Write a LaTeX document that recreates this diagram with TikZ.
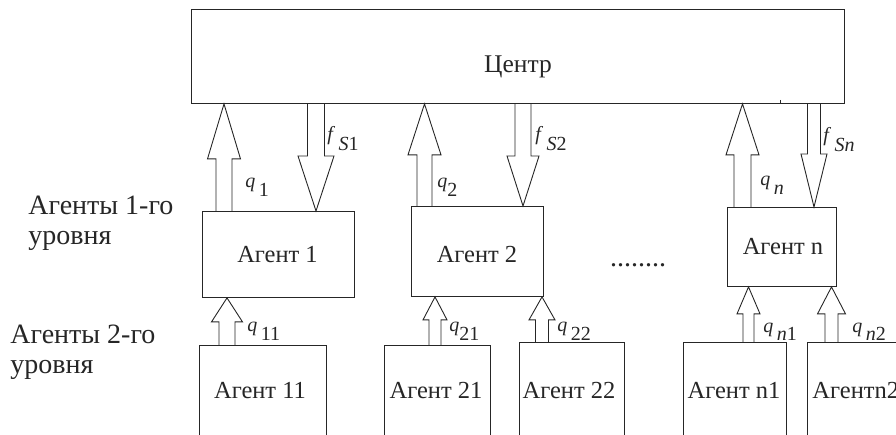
\documentclass[tikz,border=0pt]{standalone}
\usepackage{fontspec}
\setmainfont{Liberation Serif}
\usetikzlibrary{calc}

% sub/superscript-like labels on the block arrows
\newcommand\arrlab[2]{\textit{#1}\,\raisebox{-9pt}{#2}}

\tikzset{
  box/.style={draw, inner sep=0pt, anchor=north west,
    font=\fontsize{24.5}{28}\selectfont},
  txt/.style={inner sep=0pt, font=\fontsize{24.5}{28}\selectfont},
  lvlcap/.style={inner sep=0pt, anchor=base west, align=left,
    font=\fontsize{28}{30}\selectfont},
  lab/.style={inner sep=0pt, anchor=base west,
    font=\fontsize{20}{22}\selectfont},
  % hollow block arrow pointing up: {half shaft}{half head}{head length}
  uparr/.style n args={3}{to path={let \p1=(\tikztostart), \p2=(\tikztotarget) in
    (\x1-#1,\y1) -- (\x1-#1,\y2-#3) -- (\x1-#2,\y2-#3) -- (\x1,\y2)
    -- (\x1+#2,\y2-#3) -- (\x1+#1,\y2-#3) -- (\x1+#1,\y1)}},
  % hollow block arrow pointing down
  dnarr/.style n args={3}{to path={let \p1=(\tikztostart), \p2=(\tikztotarget) in
    (\x1-#1,\y1) -- (\x1-#1,\y2+#3) -- (\x1-#2,\y2+#3) -- (\x1,\y2)
    -- (\x1+#2,\y2+#3) -- (\x1+#1,\y2+#3) -- (\x1+#1,\y1)}},
}

\begin{document}
\begin{tikzpicture}[x=1pt, y=-1pt, line width=0.9pt, color=black!85]
\useasboundingbox (0,0) rectangle (896,435);
\clip (0,0) rectangle (896,435);

% centre
\node[box, minimum width=653pt, minimum height=93.5pt] (ctr) at (191,9.5) {};
\node[txt, anchor=base, font=\fontsize{25.5}{28}\selectfont] (ctrtext) at (518,73) {Центр};
\coordinate (tick) at (780,100);
\draw (tick) -- (tick |- ctr.south);

% first-level agents
\node[box, minimum width=152pt, minimum height=86pt] (a1) at (202,211) {};
\node[txt, anchor=base] (a1t) at (277.5,263) {Агент 1};
\node[box, minimum width=132pt, minimum height=90pt] (a2) at (411,206) {};
\node[txt, anchor=base] (a2t) at (477,263) {Агент 2};
\node[box, minimum width=109pt, minimum height=79pt] (an) at (727,207) {};
\node[txt, anchor=base] (ant) at (783,255) {Агент n};
\node[txt, anchor=base, font=\fontsize{28}{30}\selectfont] (dots) at (638,267) {........};

% second-level agents
\node[box, minimum width=127pt, minimum height=92pt] (a11) at (199,345) {};
\node[txt, anchor=base] (a11t) at (260,398) {Агент 11};
\node[box, minimum width=106pt, minimum height=92pt] (a21) at (384,345) {};
\node[txt, anchor=base] (a21t) at (436,398) {Агент 21};
\node[box, minimum width=105pt, minimum height=95pt] (a22) at (519,342) {};
\node[txt, anchor=base] (a22t) at (569,398) {Агент 22};
\node[box, minimum width=103pt, minimum height=95pt] (an1) at (683,342) {};
\node[txt, anchor=base] (an1t) at (734,398) {Агент n1};
\node[box, minimum width=110pt, minimum height=95pt] (an2) at (807,342) {};
\node[txt, anchor=base west] (an2t) at (812,398) {Агентn2};

% level captions
\node[lvlcap] (lvl1) at (28,245) {Агенты 1-го\\уровня};
\node[lvlcap] (lvl2) at (10,373) {Агенты 2-го\\уровня};

% block arrows between the centre and first-level agents
\coordinate (q1s) at ([xshift=22pt]a1.north west);
\draw[uparr={8pt}{16.5pt}{55pt}] (q1s) to (q1s |- ctr.south);
\coordinate (f1s) at ([xshift=114pt]a1.north west);
\draw[dnarr={8.5pt}{18pt}{55pt}] (f1s |- ctr.south) to (f1s);

\coordinate (q2s) at ([xshift=13.5pt]a2.north west);
\draw[uparr={7.5pt}{16.5pt}{51pt}] (q2s) to (q2s |- ctr.south);
\coordinate (f2s) at ([xshift=112pt]a2.north west);
\draw[dnarr={8pt}{16pt}{50pt}] (f2s |- ctr.south) to (f2s);

\coordinate (qns) at ([xshift=15.5pt]an.north west);
\draw[uparr={8.5pt}{16.5pt}{51pt}] (qns) to (qns |- ctr.south);
\coordinate (fns) at ([xshift=87pt]an.north west);
\draw[dnarr={6.5pt}{13pt}{53pt}] (fns |- ctr.south) to (fns);

% block arrows from second-level agents
\coordinate (q11s) at ([xshift=28pt]a11.north west);
\draw[uparr={8pt}{15.5pt}{24pt}] (q11s) to (q11s |- a1.south);
\coordinate (q21s) at ([xshift=51pt]a21.north west);
\draw[uparr={6pt}{12pt}{23pt}] (q21s) to (q21s |- a2.south);
\coordinate (q22s) at ([xshift=23pt]a22.north west);
\draw[uparr={6.5pt}{13pt}{23pt}] (q22s) to (q22s |- a2.south);
\coordinate (qn1s) at ([xshift=65.5pt]an1.north west);
\draw[uparr={5.5pt}{11.5pt}{27pt}] (qn1s) to (qn1s |- an.south);
\coordinate (qn2s) at ([xshift=24.5pt]an2.north west);
\draw[uparr={6.5pt}{14pt}{27pt}] (qn2s) to (qn2s |- an.south);

% arrow labels
\node[lab] (lq1) at (245,188) {\arrlab{q}{1}};
\node[lab] (lf1) at (327,141) {\textit{f}\,\raisebox{-10pt}{\textit{S}1}};
\node[lab] (lq2) at (437,188) {\textit{q}\raisebox{-9pt}{2}};
\node[lab] (lf2) at (535,141) {\textit{f}\,\raisebox{-10pt}{\textit{S}2}};
\node[lab] (lqn) at (760,186) {\arrlab{q}{\textit{n}}};
\node[lab] (lfn) at (823,142) {\textit{f}\,\raisebox{-10pt}{\textit{Sn}}};
\node[lab] (lq11) at (247,331) {\arrlab{q}{11}};
\node[lab] (lq21) at (449,331) {\textit{q}\raisebox{-9pt}{21}};
\node[lab] (lq22) at (557,331) {\arrlab{q}{22}};
\node[lab] (lqn1) at (763,332) {\arrlab{q}{\textit{n}1}};
\node[lab] (lqn2) at (852,332) {\arrlab{q}{\textit{n}2}};
\end{tikzpicture}
\end{document}
